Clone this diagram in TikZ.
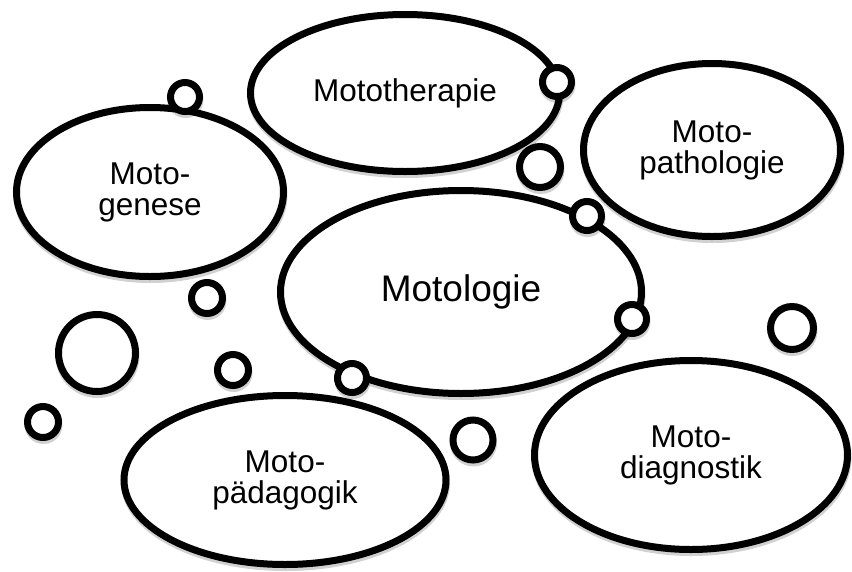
\documentclass[tikz,border=0pt]{standalone}
\usepackage{fontspec}
\setmainfont{Liberation Sans}
\usepackage{tikz}
\usetikzlibrary{shapes.geometric,shadows}

\begin{document}
\begin{tikzpicture}[x=1pt, y=-1pt,
  bubble/.style={draw, ellipse, line width=7pt, fill=white, inner sep=0pt, align=center,
    font=\fontsize{31.5}{31}\selectfont,
    drop shadow={shadow xshift=0.5pt, shadow yshift=-3pt, opacity=.18, fill=black, draw=black, line width=7pt}},
  dot/.style={draw, circle, line width=7pt, fill=white, inner sep=0pt,
    drop shadow={shadow xshift=0.5pt, shadow yshift=-3pt, opacity=.18, fill=black, draw=black, line width=7pt}}]
\useasboundingbox (0,0) rectangle (852,571);
\node[bubble, minimum width=267, minimum height=169] (genese) at (150,192) {Moto-\\genese};
\node[bubble, minimum width=309, minimum height=157] (therapie) at (405,93) {Mototherapie};
\node[bubble, minimum width=257, minimum height=173] (pathologie) at (712,150) {Moto-\\pathologie};
\node[bubble, minimum width=361, minimum height=203, font=\fontsize{37}{40}\selectfont] (logie) at (461,292) {Motologie};
\node[bubble, minimum width=322, minimum height=169] (paedagogik) at (285,480) {Moto-\\pädagogik};
\node[bubble, minimum width=313, minimum height=189] (diagnostik) at (691,455) {Moto-\\diagnostik};
% small bubbles
\node[dot, minimum size=29] (d1) at (185,97) {};
\node[dot, minimum size=29] (d2) at (557,82) {};
\node[dot, minimum size=41] (d3) at (540,167) {};
\node[dot, minimum size=29] (d4) at (587,216) {};
\node[dot, minimum size=31] (d5) at (207,298) {};
\node[dot, minimum size=77] (d6) at (97,353) {};
\node[dot, minimum size=29] (d7) at (632,319) {};
\node[dot, minimum size=31] (d8) at (233,370) {};
\node[dot, minimum size=29] (d9) at (352,378) {};
\node[dot, minimum size=31] (d10) at (43,422) {};
\node[dot, minimum size=40] (d11) at (473,440) {};
\node[dot, minimum size=43] (d12) at (792,328) {};
\end{tikzpicture}
\end{document}
